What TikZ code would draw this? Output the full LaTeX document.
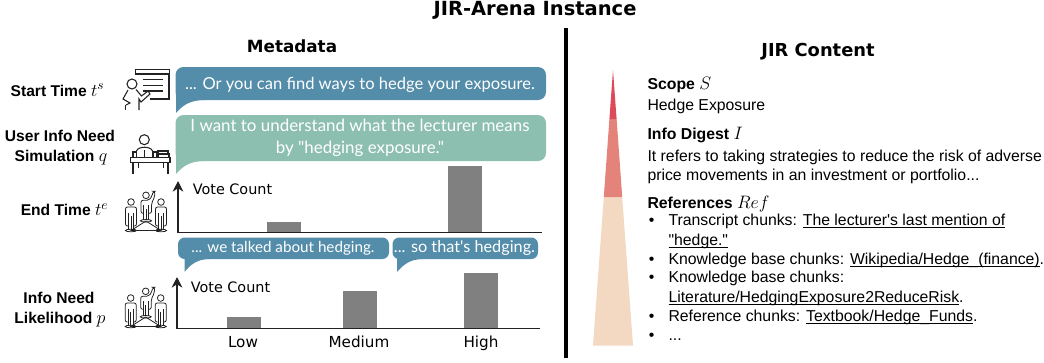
\RequirePackage{fix-cm}
\documentclass[tikz,border=0pt]{standalone}
\usepackage{fontspec}
\setmainfont{Liberation Sans}[Ligatures=TeXOff]
\newfontfamily\headfont{DejaVu Sans}
\newfontfamily\chatfont{Lato}[Ligatures=TeXOff]
\usetikzlibrary{arrows.meta}
\DeclareMathSizes{11.7}{13.5}{10}{7}
\DeclareMathSizes{11.85}{13.5}{10}{7}

\definecolor{chatblue}{HTML}{548DA9}
\definecolor{chatgreen}{HTML}{8DBFB0}
\definecolor{barfill}{HTML}{808080}
\definecolor{peakred}{HTML}{DD4A5A}
\definecolor{midred}{HTML}{E3837A}
\definecolor{basepeach}{HTML}{F3D8C2}
\definecolor{icon}{HTML}{222222}

\newcommand{\reflink}[1]{\setbox0\hbox{#1}\rlap{\rule[-2.2pt]{\wd0}{0.8pt}}\box0}

\tikzset{
  head/.style={anchor=base,inner sep=0pt,font=\headfont\bfseries\fontsize{#1}{15}\selectfont},
  side/.style={anchor=base,inner sep=0pt,font=\bfseries\fontsize{11.7}{14}\selectfont},
  chat/.style={anchor=base,inner sep=0pt,text=white,font=\chatfont\fontsize{#1}{15}\selectfont},
  axis/.style={anchor=base,inner sep=0pt,font=\headfont\fontsize{#1}{13}\selectfont},
  body/.style={anchor=base west,inner sep=0pt,font=\fontsize{11.85}{14}\selectfont},
  bodyb/.style={anchor=base west,inner sep=0pt,font=\bfseries\fontsize{11.85}{14}\selectfont},
  dot/.style={anchor=base,inner sep=0pt,font=\fontsize{11.85}{14}\selectfont},
  voter/.pic={
    \draw (0,0) circle (3.3);
    \draw [rounded corners=1.5pt] (-3,24) -- (-5.5,24) -- (-5.5,5) -- (5.5,5) -- (5.5,24) -- (3,24);
    \draw (-2.7,11) -- (-2.7,28) (2.7,11) -- (2.7,28) (0,14) -- (0,28);
    \draw (0,28.5) ellipse (5.5 and 1.3);
  },
  raiser/.pic={
    \draw (0,0) circle (3.3);
    \draw [rounded corners=1.5pt] (-3,18) -- (-5,18) -- (-5,5) -- (3,5) -- (6,1) -- (7,-4) -- (9,-4) -- (8.5,2) -- (5.5,8) -- (5.5,18) -- (3,18);
    \draw (-2.7,10) -- (-2.7,25) (2.7,10) -- (2.7,25) (0,14) -- (0,25);
    \draw (0,25.5) ellipse (5.5 and 1.3);
  },
  voters/.pic={
    \draw (0,28.5) -- (15,19) -- (30,28.5) -- cycle;
    \draw pic {voter};
    \draw (30,0) pic {voter};
    \draw (15,-6.7) pic {raiser};
  },
}

\begin{document}
\begin{tikzpicture}[x=0.75pt,y=-0.75pt,line width=0.8pt]
\useasboundingbox (0,0) rectangle (1044,362);

\draw (535,15) node [head=14.6] (title) {JIR-Arena Instance};
\draw (292,52.7) node [head=12.6] (metadata) {Metadata};
\draw (818,56) node [head=13.4] (content) {JIR Content};

\coordinate (splittop) at (566,28);
\coordinate (splitbot) at (566,358);
\draw [line width=3pt] (splittop) -- (splitbot);

% row labels
\draw (57.5,96) node [side] (start) {Start Time $t^s$};
\draw (60,141.7) node [side] (user) {User Info Need};
\draw (61,161.7) node [side] (sim) {Simulation $q$};
\draw (64.5,215.7) node [side] (endt) {End Time $t^e$};
\draw (59,303) node [side] (need) {Info Need};
\draw (60,323) node [side] (like) {Likelihood $p$};

% presenter
\begin{scope}[icon]
\draw (135.5,69.5) rectangle (169.5,74);
\draw (143,79.5) -- (163,79.5) (143,85.5) -- (163,85.5) (143,91) -- (163,91);
\draw (169,74) -- (169,99) -- (150,99);
\draw (132,84) circle (5);
\draw (128,90) -- (123,99) -- (130,103) -- (126,105);
\draw (125.5,105) -- (125.5,110);
\draw (136,89.5) -- (141.5,96) -- (148,91) -- (150,94) -- (141,102) -- (139,99) -- (139,110);
\end{scope}

% student
\begin{scope}[icon]
\draw (144.3,139.7) circle (5);
\draw (136.5,151) .. controls (138,146) and (151,146) .. (152.5,151);
\draw (136.5,151) -- (136.5,157.5) (152.5,151) -- (152.5,157.5) (144.5,150) -- (144.5,157.5);
\draw (133,152) rectangle (136.5,157.5) (153,152) rectangle (156.5,157.5);
\draw (158,151) rectangle (168,154) (158,154) rectangle (169,157.5);
\draw (130.5,157.5) rectangle (170,162.5);
\draw (133,162.5) -- (133,174) (168,162.5) -- (168,174);
\draw [line width=0.4pt] (138,162.5) -- (138,168) (163,162.5) -- (163,168);
\end{scope}

% voters
\draw [icon,line width=0.6pt] (131,202) pic {voters};
\draw [icon,line width=0.6pt] (130.7,298) pic {voters};

% speech bubbles
\fill [chatblue,rounded corners=6pt] (175.5,67) rectangle (546,100);
\fill [chatblue] (176,94) -- (176,113) .. controls (183,105) and (190,100) .. (205,100) -- cycle;
\draw (360,89) node [chat=12.4] (quote) {... Or you can find ways to hedge your exposure.};

\fill [chatgreen,rounded corners=6pt] (175.5,115) rectangle (546,161);
\fill [chatgreen] (176,155) -- (176,174) .. controls (183,166) and (190,161) .. (205,161) -- cycle;
\draw (360,131) node [chat=12.7] (wanta) {I want to understand what the lecturer means};
\draw (360,153) node [chat=12.7] (wantb) {by "hedging exposure."};

\fill [chatblue,rounded corners=5pt] (178,237.5) rectangle (389,259);
\fill [chatblue] (184.5,255) -- (184.5,272) .. controls (190,265) and (197,259) .. (210,259) -- cycle;
\draw (283,252) node [chat=11.4] (talked) {... we talked about hedging.};

\fill [chatblue,rounded corners=5pt] (392.5,237.5) rectangle (538,259);
\fill [chatblue] (397,255) -- (397,272) .. controls (403,265) and (410,259) .. (423,259) -- cycle;
\draw (464.5,252) node [chat=12.2] (sothat) {... so that's hedging.};

% upper chart
\coordinate (upperorigin) at (178,232.5);
\coordinate (uppertop) at (178,181);
\coordinate (upperright) at (542,232.5);
\fill [barfill] (267,222) rectangle (301,232);
\fill [barfill] (448,166) rectangle (482,232);
\draw [icon,-{Stealth[length=8pt,width=8pt]}] (upperorigin) -- (uppertop);
\draw [icon] (upperorigin) -- (upperright);
\draw (232.5,194) node [axis=10.8] (uppercount) {Vote Count};

% lower chart
\coordinate (lowerorigin) at (177,328.5);
\coordinate (lowertop) at (177,277);
\coordinate (lowerright) at (540,328.5);
\fill [barfill] (227,317) rectangle (261,328);
\fill [barfill] (343,291) rectangle (377,328);
\fill [barfill] (464,273) rectangle (498,328);
\draw [icon,-{Stealth[length=8pt,width=8pt]}] (lowerorigin) -- (lowertop);
\draw [icon] (lowerorigin) -- (lowerright);
\draw (230.5,292.7) node [axis=10.8] (lowercount) {Vote Count};
\draw (243,347.7) node [axis=11.4] (low) {Low};
\draw (359,347.7) node [axis=11.4] (medium) {Medium};
\draw (481,347.7) node [axis=11.4] (high) {High};

% funnel
\fill [basepeach] (603.8,197) -- (622.2,197) -- (633,345.6) -- (593,345.6) -- cycle;
\fill [midred] (609.4,119) -- (616.6,119) -- (622.2,197) -- (603.8,197) -- cycle;
\fill [peakred] (613,70) -- (616.6,119) -- (609.4,119) -- cycle;

% right column
\draw (647,89.3) node [bodyb] (scope) {Scope $S$};
\draw (647,110) node [body] (scopetext) {Hedge Exposure};
\draw (647,139.3) node [bodyb] (digest) {Info Digest $I$};
\draw (647,161) node [body] (digesta) {It refers to taking strategies to reduce the risk of adverse};
\draw (647,180) node [body] (digestb) {price movements in an investment or portfolio...};
\draw (647,208) node [bodyb] (refs) {References $Ref$};

\draw (651.7,225) node [dot] (dota) {\textbullet};
\draw (668,225) node [body] (refa) {Transcript chunks: \reflink{The lecturer's last mention of}};
\draw (668,245) node [body] (refb) {\reflink{"hedge."}};
\draw (651.7,264) node [dot] (dotb) {\textbullet};
\draw (668,264) node [body] (refc) {Knowledge base chunks: \reflink{Wikipedia/Hedge\_(finance)}.};
\draw (651.7,282) node [dot] (dotc) {\textbullet};
\draw (668,282) node [body] (refd) {Knowledge base chunks:};
\draw (668,302) node [body] (refe) {\reflink{Literature/HedgingExposure2ReduceRisk}.};
\draw (651.7,321) node [dot] (dotd) {\textbullet};
\draw (668,321) node [body] (reff) {Reference chunks: \reflink{Textbook/Hedge\_Funds}.};
\draw (651.7,340) node [dot] (dote) {\textbullet};
\draw (668,340) node [body] (refg) {...};
\end{tikzpicture}
\end{document}
